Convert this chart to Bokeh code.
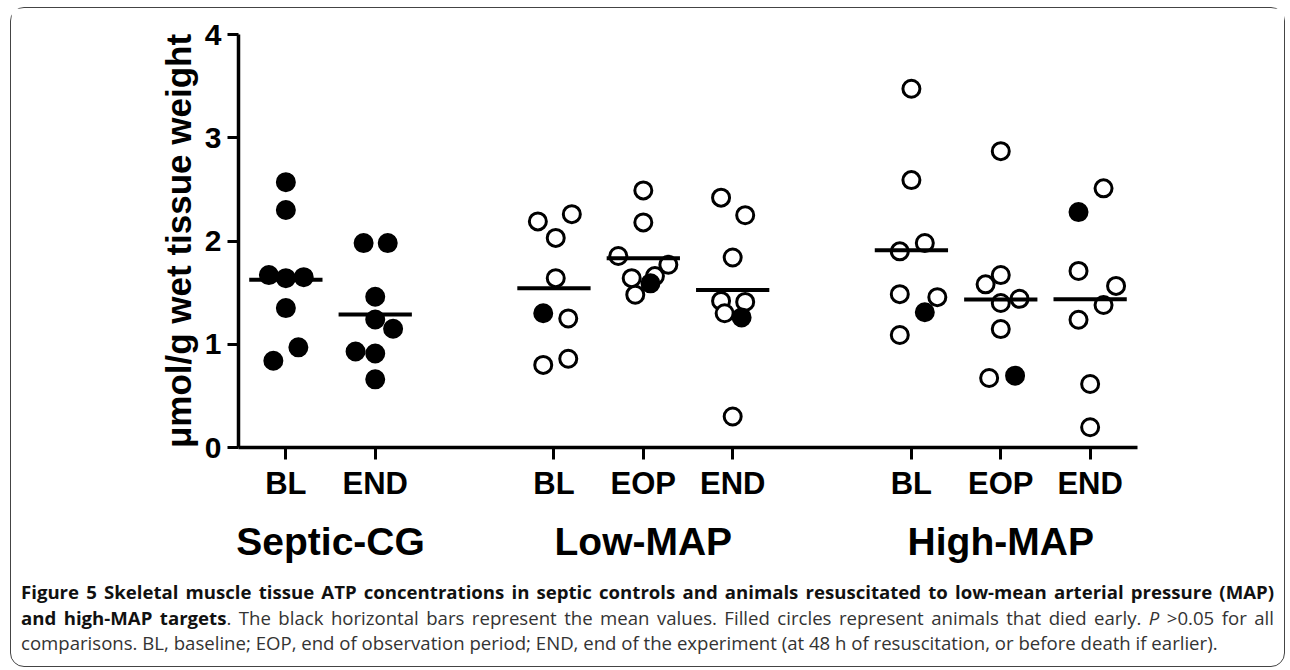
import numpy as np
from bokeh.plotting import figure
from bokeh.models import (FactorRange, ColumnDataSource, FixedTicker, Div, Range1d,
                          CategoricalAxis)
from bokeh.layouts import column
from bokeh.embed import file_html
from bokeh.resources import INLINE

# ---------------- data ----------------
groups = ["Septic-CG", "Low-MAP", "High-MAP"]
periods = [["BL", "END"], ["BL", "EOP", "END"], ["BL", "EOP", "END"]]

# values (umol/g wet tissue weight), horizontal jitter (fraction of a category), died early (1 = filled)
septic_bl = [2.57, 2.30, 1.67, 1.64, 1.65, 1.35, 0.97, 0.84]
septic_bl_dx = [0.0, 0.0, -0.19, 0.0, 0.20, 0.0, 0.14, -0.14]
septic_bl_died = [1, 1, 1, 1, 1, 1, 1, 1]

septic_end = [1.98, 1.98, 1.46, 1.24, 1.15, 0.93, 0.91, 0.66]
septic_end_dx = [-0.13, 0.14, 0.0, 0.0, 0.20, -0.22, 0.0, 0.0]
septic_end_died = [1, 1, 1, 1, 1, 1, 1, 1]

low_bl = [2.19, 2.26, 2.03, 1.64, 1.30, 1.25, 0.80, 0.86]
low_bl_dx = [-0.18, 0.20, 0.02, 0.02, -0.12, 0.16, -0.12, 0.16]
low_bl_died = [0, 0, 0, 0, 1, 0, 0, 0]

low_eop = [2.49, 2.18, 1.855, 1.77, 1.66, 1.64, 1.48, 1.59]
low_eop_dx = [0.0, 0.0, -0.28, 0.28, 0.13, -0.13, -0.09, 0.08]
low_eop_died = [0, 0, 0, 0, 0, 0, 0, 1]

low_end = [2.42, 2.25, 1.84, 1.42, 1.41, 1.30, 1.26, 0.30]
low_end_dx = [-0.13, 0.14, 0.0, -0.13, 0.14, -0.09, 0.10, 0.0]
low_end_died = [0, 0, 0, 0, 0, 0, 1, 0]

high_bl = [3.475, 2.59, 1.90, 1.98, 1.485, 1.456, 1.31, 1.09]
high_bl_dx = [0.0, 0.0, -0.13, 0.15, -0.13, 0.29, 0.15, -0.13]
high_bl_died = [0, 0, 0, 0, 0, 0, 1, 0]

high_eop = [2.87, 1.67, 1.58, 1.44, 1.40, 1.147, 0.673, 0.696]
high_eop_dx = [0.0, 0.0, -0.17, 0.21, 0.0, 0.0, -0.13, 0.16]
high_eop_died = [0, 0, 0, 0, 0, 0, 0, 1]

high_end = [2.51, 2.28, 1.71, 1.565, 1.38, 1.237, 0.615, 0.196]
high_end_dx = [0.15, -0.13, -0.13, 0.29, 0.15, -0.13, 0.0, 0.0]
high_end_died = [0, 1, 0, 0, 0, 0, 0, 0]

y_ticks = [0, 1, 2, 3, 4]
y_label = "μmol/g wet tissue weight"

series = [
    ("Septic-CG", "BL", septic_bl, septic_bl_dx, septic_bl_died),
    ("Septic-CG", "END", septic_end, septic_end_dx, septic_end_died),
    ("Low-MAP", "BL", low_bl, low_bl_dx, low_bl_died),
    ("Low-MAP", "EOP", low_eop, low_eop_dx, low_eop_died),
    ("Low-MAP", "END", low_end, low_end_dx, low_end_died),
    ("High-MAP", "BL", high_bl, high_bl_dx, high_bl_died),
    ("High-MAP", "EOP", high_eop, high_eop_dx, high_eop_died),
    ("High-MAP", "END", high_end, high_end_dx, high_end_died),
]

# ---------------- build sources ----------------
factors = [(g, s) for g, ps in zip(groups, periods) for s in ps]

px, py, pfill = [], [], []
mx0, mx1, my = [], [], []
for g, s, vals, dxs, died in series:
    for v, dx, d in zip(vals, dxs, died):
        px.append((g, s, dx))
        py.append(v)
        pfill.append("black" if d else "white")
    mx0.append((g, s, -0.41))
    mx1.append((g, s, 0.41))
    my.append(float(np.mean(vals)))

pts = ColumnDataSource(dict(x=px, y=py, fill=pfill))
means = ColumnDataSource(dict(x0=mx0, x1=mx1, y=my))

FONT = "Liberation Sans"

xr = FactorRange(*factors, factor_padding=0.0, group_padding=1.0,
                 range_padding=0.03, range_padding_units="absolute")

p = figure(x_range=xr, y_range=Range1d(0, 4),
           frame_width=899, frame_height=413,
           min_border_left=227, min_border_right=147,
           min_border_top=26, min_border_bottom=132,
           output_backend="svg", toolbar_location=None,
           background_fill_color="white", border_fill_color="white")
p.outline_line_color = None
p.xgrid.visible = False
p.ygrid.visible = False

p.scatter("x", "y", source=pts, size=17, fill_color="fill",
          line_color="black", line_width=3)
p.segment(x0="x0", y0="y", x1="x1", y1="y", source=means,
          line_color="black", line_width=4)

# y axis
ya = p.yaxis[0]
ya.ticker = FixedTicker(ticks=y_ticks)
ya.axis_line_width = 3.5
ya.major_tick_line_width = 3
ya.major_tick_out = 11
ya.major_tick_in = 0
ya.minor_tick_line_color = None
ya.major_label_standoff = 6
ya.major_label_text_font = FONT
ya.major_label_text_font_style = "bold"
ya.major_label_text_font_size = "30px"
ya.major_label_text_color = "black"
ya.axis_label = y_label
ya.axis_label_text_font = FONT
ya.axis_label_text_font_style = "bold"
ya.axis_label_text_font_size = "35px"
ya.axis_label_text_color = "black"
ya.axis_label_standoff = 4

# x axis: sub-category labels
xa = p.xaxis[0]
xa.axis_line_width = 3.5
xa.major_tick_line_width = 3
xa.major_tick_out = 12
xa.major_tick_in = 0
xa.major_label_standoff = 6
xa.major_label_text_font = FONT
xa.major_label_text_font_style = "bold"
xa.major_label_text_font_size = "31px"
xa.major_label_text_color = "black"
xa.group_text_font_size = "1px"
xa.group_text_color = None
xa.separator_line_color = None

# second categorical axis below: group names only
ga = CategoricalAxis()
ga.axis_line_color = None
ga.major_tick_line_color = None
ga.minor_tick_line_color = None
ga.major_tick_out = 0
ga.major_tick_in = 0
ga.major_label_standoff = 16
ga.major_label_text_font_size = "10px"
ga.major_label_text_color = None
ga.group_text_font = FONT
ga.group_text_font_style = "bold"
ga.group_text_font_size = "39px"
ga.group_text_color = "black"
ga.separator_line_color = None
p.add_layout(ga, "below")

caption_html = (
    '<div style="width:1253px; font-family:\'Open Sans\'; font-size:18.6px; line-height:25.5px; color:#333;">'
    '<div style="width:1253px; text-align:justify; text-align-last:justify; white-space:nowrap; color:#111; font-weight:bold;">'
    'Figure 5 Skeletal muscle tissue ATP concentrations in septic controls and animals resuscitated to '
    'low-mean arterial pressure (MAP)</div>'
    '<div style="width:1253px; text-align:justify; text-align-last:justify; white-space:nowrap;">'
    '<b style="color:#111;">and high-MAP targets</b>. The black horizontal bars represent the mean values. '
    'Filled circles represent animals that died early. <i>P</i> &gt;0.05 for all</div>'
    '<div style="width:1253px; white-space:nowrap;">comparisons. BL, baseline; EOP, end of observation period; END, end of '
    'the experiment (at 48 h of resuscitation, or before death if earlier).</div>'
    '</div>'
)
caption = Div(text=caption_html, width=1253, height=87, margin=(0, 0, 0, 10))

layout = column(p, caption, margin=(7, 0, 0, 10),
                styles={"border": "1.5px solid #444", "border-radius": "14px"})

open("out.html", "w").write(file_html(layout, INLINE))
